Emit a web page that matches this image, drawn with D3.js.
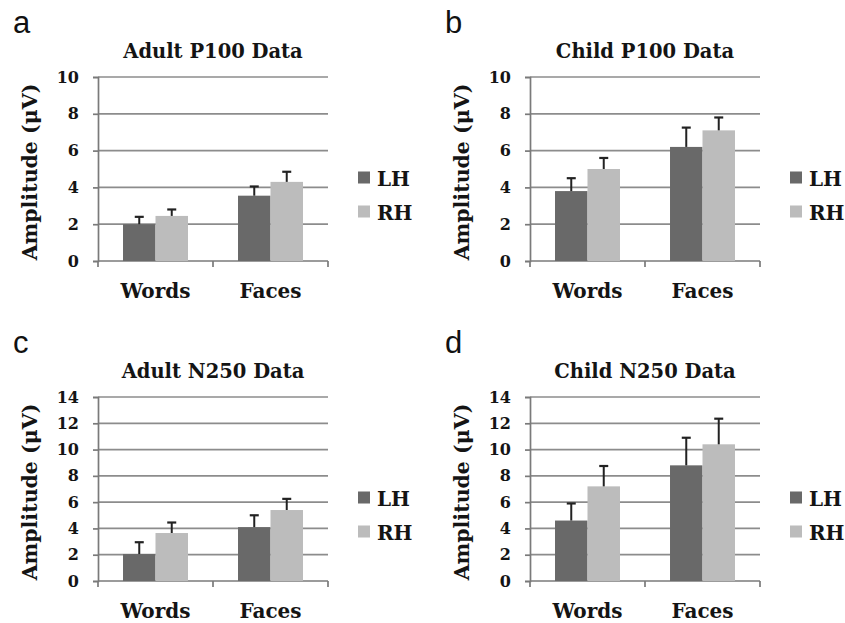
<!DOCTYPE html>
<html>
<head>
<meta charset="utf-8">
<script src="https://cdn.jsdelivr.net/npm/d3@7"></script>
<style>
  html, body { margin: 0; padding: 0; background: #fff; }
  svg { display: block; }
</style>
</head>
<body>
<svg id="chart" width="845" height="623"></svg>
<script>
// ---- Data ----
const categories = ["Words", "Faces"];
const seriesNames = ["LH", "RH"];

const adultP100LH = [2.0, 3.55];
const adultP100RH = [2.45, 4.3];
const adultP100LHErr = [0.4, 0.5];
const adultP100RHErr = [0.35, 0.55];

const childP100LH = [3.8, 6.2];
const childP100RH = [5.0, 7.1];
const childP100LHErr = [0.7, 1.05];
const childP100RHErr = [0.6, 0.7];

const adultN250LH = [2.05, 4.1];
const adultN250RH = [3.65, 5.4];
const adultN250LHErr = [0.9, 0.9];
const adultN250RHErr = [0.8, 0.85];

const childN250LH = [4.6, 8.8];
const childN250RH = [7.2, 10.4];
const childN250LHErr = [1.3, 2.1];
const childN250RHErr = [1.55, 1.95];

const p100Ticks = [0, 2, 4, 6, 8, 10];
const n250Ticks = [0, 2, 4, 6, 8, 10, 12, 14];

const panelLetters = ["a", "b", "c", "d"];
const panelTitles = ["Adult P100 Data", "Child P100 Data", "Adult N250 Data", "Child N250 Data"];
const yAxisTitle = "Amplitude (\u03bcV)";

const colors = { LH: "#696969", RH: "#bcbcbc" };

const panels = [
  { letter: panelLetters[0], title: panelTitles[0], lh: adultP100LH, rh: adultP100RH, lhErr: adultP100LHErr, rhErr: adultP100RHErr, ticks: p100Ticks, col: 0, row: 0 },
  { letter: panelLetters[1], title: panelTitles[1], lh: childP100LH, rh: childP100RH, lhErr: childP100LHErr, rhErr: childP100RHErr, ticks: p100Ticks, col: 1, row: 0 },
  { letter: panelLetters[2], title: panelTitles[2], lh: adultN250LH, rh: adultN250RH, lhErr: adultN250LHErr, rhErr: adultN250RHErr, ticks: n250Ticks, col: 0, row: 1 },
  { letter: panelLetters[3], title: panelTitles[3], lh: childN250LH, rh: childN250RH, lhErr: childN250LHErr, rhErr: childN250RHErr, ticks: n250Ticks, col: 1, row: 1 }
];

// ---- Layout ----
const svg = d3.select("#chart");
const serif = "'DejaVu Serif', 'Liberation Serif', serif";
const sans = "'Liberation Sans', Arial, sans-serif";
const textColor = "#141414";
const axisColor = "#7a7a7a";

const plotW = 230;
const plotH = 184;

function drawPanel(p) {
  const ox = p.col === 0 ? 98 : 530;
  const oy = p.row === 0 ? 77 : 397;
  const g = svg.append("g").attr("transform", `translate(${ox},${oy})`);

  const yMax = p.ticks[p.ticks.length - 1];
  const y = d3.scaleLinear().domain([0, yMax]).range([plotH, 0]);
  const x = d3.scaleBand().domain(categories).range([0, plotW]).paddingInner(0).paddingOuter(0);
  const xs = d3.scaleBand().domain(seriesNames).range([0, x.bandwidth()]).paddingInner(0).paddingOuter(0.77);

  // panel letter
  svg.append("text")
    .attr("x", ox - 85).attr("y", oy - 44)
    .attr("font-family", sans).attr("font-size", 31)
    .attr("fill", "#111")
    .text(p.letter);

  // title
  g.append("text")
    .attr("x", plotW / 2).attr("y", -19)
    .attr("text-anchor", "middle")
    .attr("font-family", serif).attr("font-weight", "bold").attr("font-size", 19.5)
    .attr("fill", textColor)
    .text(p.title);

  // gridlines
  g.append("g").selectAll("line")
    .data(p.ticks.filter(t => t > 0))
    .join("line")
    .attr("x1", 0).attr("x2", plotW)
    .attr("y1", d => y(d)).attr("y2", d => y(d))
    .attr("stroke", "#8c8c8c").attr("stroke-width", 1.7);

  // y axis
  const yAxis = d3.axisLeft(y).tickValues(p.ticks).tickSize(5).tickPadding(14).tickFormat(d3.format("d"));
  const ya = g.append("g").call(yAxis);
  ya.select(".domain").attr("stroke", axisColor).attr("stroke-width", 1.7);
  ya.selectAll(".tick line").attr("stroke", axisColor).attr("stroke-width", 1.7);
  ya.selectAll(".tick text")
    .attr("font-family", serif).attr("font-weight", "bold").attr("font-size", 16)
    .attr("fill", textColor);

  // x axis (ticks at category boundaries)
  const xa = g.append("g").attr("transform", `translate(0,${plotH})`);
  xa.append("line").attr("x1", 0).attr("x2", plotW).attr("y1", 0).attr("y2", 0)
    .attr("stroke", axisColor).attr("stroke-width", 1.7);
  const boundaries = [0, ...categories.map(c => x(c) + x.bandwidth())];
  xa.selectAll("line.bt").data(boundaries).join("line").attr("class", "bt")
    .attr("x1", d => d).attr("x2", d => d).attr("y1", 0).attr("y2", 6)
    .attr("stroke", axisColor).attr("stroke-width", 1.7);
  xa.selectAll("text").data(categories).join("text")
    .attr("x", d => x(d) + x.bandwidth() / 2).attr("y", 37)
    .attr("text-anchor", "middle")
    .attr("font-family", serif).attr("font-weight", "bold").attr("font-size", 20)
    .attr("fill", textColor)
    .text(d => d);

  // y axis title
  g.append("text")
    .attr("transform", `translate(${-61},${plotH / 2 + 3}) rotate(-90)`)
    .attr("text-anchor", "middle")
    .attr("font-family", serif).attr("font-weight", "bold").attr("font-size", 20.5)
    .attr("fill", textColor)
    .text(yAxisTitle);

  // bars
  const rows = categories.map((c, i) => ({ cat: c, vals: [
    { s: "LH", v: p.lh[i], e: p.lhErr[i] },
    { s: "RH", v: p.rh[i], e: p.rhErr[i] }
  ]}));
  const cg = g.append("g").selectAll("g").data(rows).join("g")
    .attr("transform", d => `translate(${x(d.cat)},0)`);
  cg.selectAll("rect").data(d => d.vals).join("rect")
    .attr("x", d => xs(d.s)).attr("width", xs.bandwidth())
    .attr("y", d => y(d.v)).attr("height", d => y(0) - y(d.v))
    .attr("fill", d => colors[d.s]);
  // error bars (upper only)
  cg.selectAll("line.err").data(d => d.vals).join("line").attr("class", "err")
    .attr("x1", d => xs(d.s) + xs.bandwidth() / 2).attr("x2", d => xs(d.s) + xs.bandwidth() / 2)
    .attr("y1", d => y(d.v)).attr("y2", d => y(d.v + d.e))
    .attr("stroke", "#222").attr("stroke-width", 2);
  cg.selectAll("line.cap").data(d => d.vals).join("line").attr("class", "cap")
    .attr("x1", d => xs(d.s) + xs.bandwidth() / 2 - 4.5).attr("x2", d => xs(d.s) + xs.bandwidth() / 2 + 4.5)
    .attr("y1", d => y(d.v + d.e)).attr("y2", d => y(d.v + d.e))
    .attr("stroke", "#222").attr("stroke-width", 2.2);

  // legend
  const lg = g.append("g").attr("transform", `translate(${plotW + 30},${plotH / 2 + 8.5})`);
  seriesNames.forEach((s, i) => {
    lg.append("rect").attr("x", 0).attr("y", i * 34 - 6).attr("width", 12).attr("height", 12)
      .attr("fill", colors[s]);
    lg.append("text").attr("x", 19).attr("y", i * 34 + 8.5)
      .attr("font-family", serif).attr("font-weight", "bold").attr("font-size", 20)
      .attr("fill", textColor)
      .text(s);
  });
}

panels.forEach(drawPanel);
</script>
</body>
</html>
